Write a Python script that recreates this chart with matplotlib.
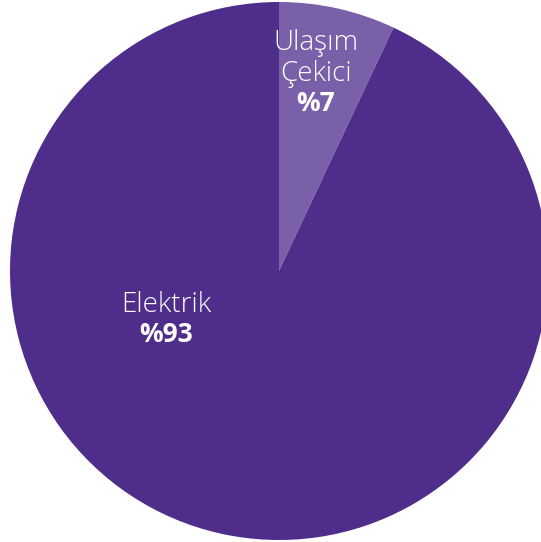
import matplotlib.pyplot as plt

labels = [["Ulaşım", "Çekici"], ["Elektrik"]]
shares = [7, 93]
colors = ["#7a60a8", "#4f2d8b"]

W, H = 541, 542
fig = plt.figure(figsize=(W / 100, H / 100), dpi=100)
fig.patch.set_facecolor("white")

# pie circle spans x 10..548 px, y 2..540 px (clipped on the right)
ax = fig.add_axes([10 / W, 2 / H, 538 / W, 538 / H])
ax.pie(shares, colors=colors, startangle=90, counterclock=False,
       radius=1.0, wedgeprops=dict(linewidth=0))
ax.set_xlim(-1, 1)
ax.set_ylim(-1, 1)
ax.set_aspect("equal")
ax.axis("off")

font = ["Open Sans", "DejaVu Sans"]
# x centre and baseline of the first label line (data units, radius = 1)
anchors = [(0.138, 0.822), (-0.42, -0.152)]
step = 0.117
for lines, val, (x, y) in zip(labels, shares, anchors):
    for i, line in enumerate(lines):
        ax.text(x, y - i * step, line, ha="center", va="baseline",
                color="white", fontsize=20, fontweight="light", family=font)
    ax.text(x, y - len(lines) * step + 0.005, f"%{val}", ha="center",
            va="baseline", color="white", fontsize=19, fontweight="bold",
            family=font)

fig.savefig("out.png", dpi=100)
